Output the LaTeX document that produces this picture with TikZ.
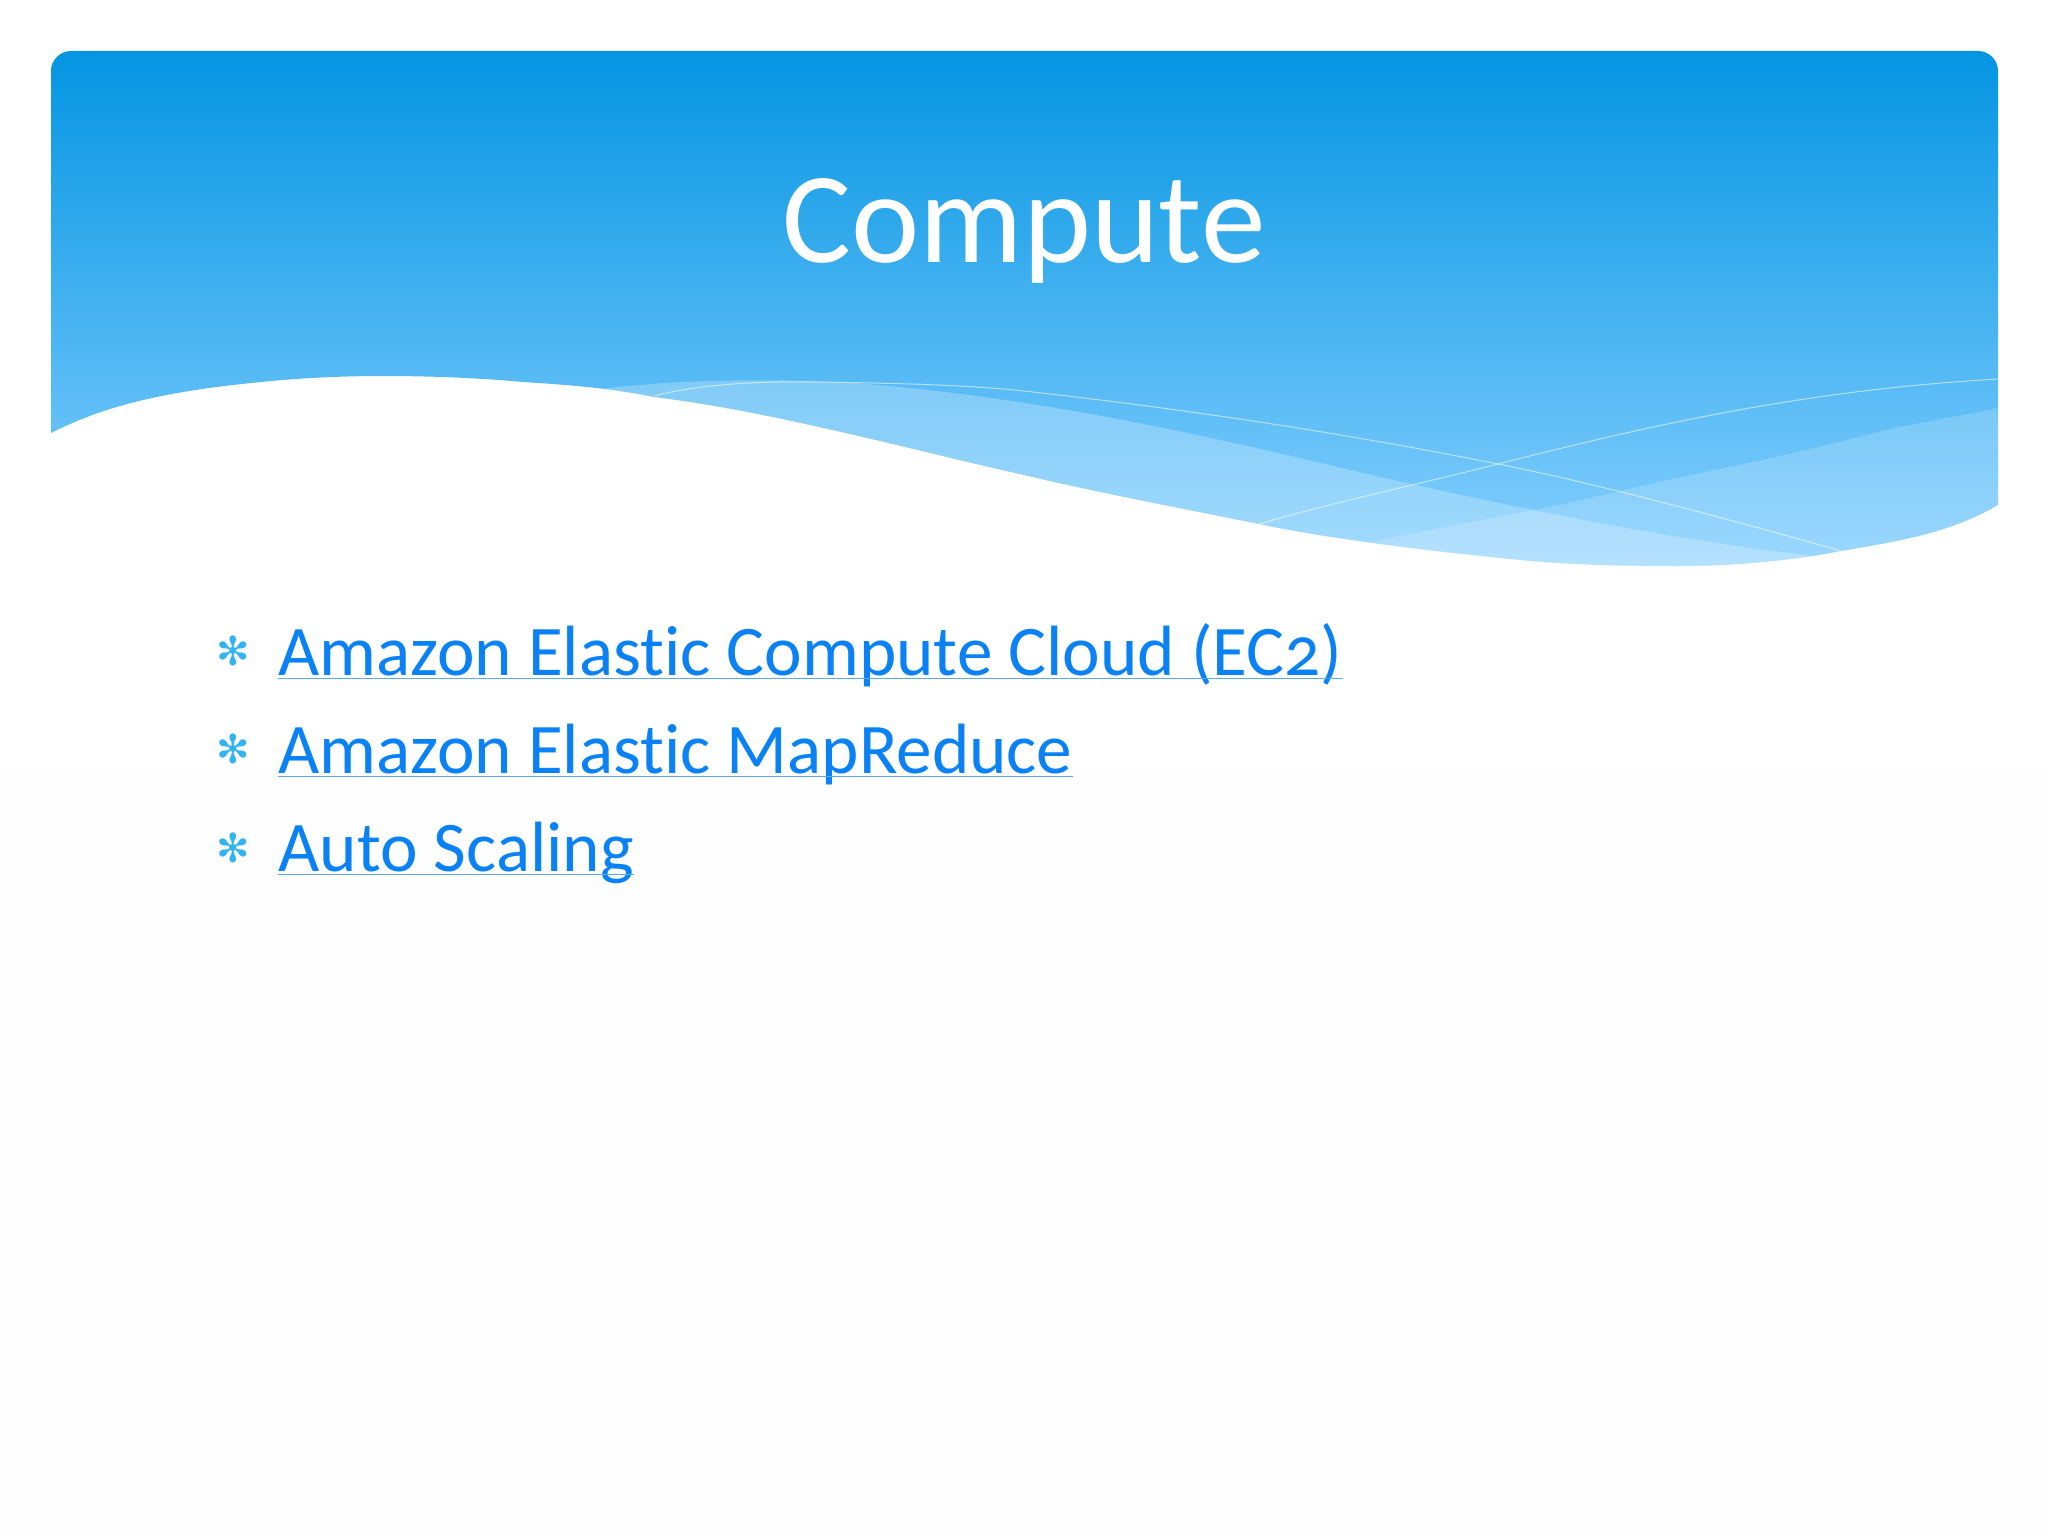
\documentclass[tikz,border=0pt]{standalone}
\usepackage{fontspec}
\setmainfont[Numbers=OldStyle,Ligatures=NoCommon]{Carlito}
\newfontfamily\bulletfont{DejaVu Sans}
\definecolor{linkblue}{RGB}{10,130,245}
\definecolor{rulelink}{RGB}{90,170,235}
\definecolor{bulletblue}{RGB}{50,180,240}
\definecolor{paneltop}{RGB}{4,149,226}
\definecolor{panelend}{RGB}{135,208,255}
\definecolor{pagelow}{RGB}{254,254,254}
\tikzset{x=0.5pt,y=-0.5pt,
  titletext/.style={font=\fontsize{64.7}{70}\selectfont,text=white,anchor=base,inner sep=0pt},
  linktext/.style={font=\fontsize{35.6}{40}\selectfont,text=linkblue,anchor=base west,inner sep=0pt},
  bulletmark/.style={font=\bulletfont\fontsize{20}{24}\selectfont,text=bulletblue,anchor=center,inner sep=0pt},
  linkrule/.style={draw=rulelink,line width=0.6pt},
  wavebit/.style={fill=white,draw=none},
  waveline/.style={draw=white,opacity=0.55,line width=0.5pt}}
\begin{document}
\begin{tikzpicture}
\useasboundingbox (0,0) rectangle (2048,1536);
\shade[top color=white,bottom color=pagelow] (0,0) rectangle (2048,1536);
\begin{scope}
\clip (51,71) .. controls (51,60) and (60,51) .. (71,51) -- (1978,51) .. controls (1989,51) and (1998,60) .. (1998,71) -- (1998,505)
  .. controls (1950,533) and (1900,541) .. (1841,551)
  .. controls (1790,561) and (1730,566) .. (1678,566)
  .. controls (1630,566) and (1570,565) .. (1521,560)
  .. controls (1450,553) and (1340,541) .. (1259,524)
  .. controls (1180,508) and (1100,493) .. (1024,475)
  .. controls (970,463) and (915,449) .. (863,437)
  .. controls (790,420) and (720,405) .. (654,397)
  .. controls (610,388) and (570,385) .. (523,382)
  .. controls (480,378) and (430,376) .. (385,376)
  .. controls (340,376) and (300,378) .. (261,382)
  .. controls (210,387) and (170,393) .. (131,403)
  .. controls (100,411) and (75,421) .. (51,433) -- cycle;
\shade[top color=paneltop,bottom color=panelend] (40,51) rectangle (2010,570);
\fill[wavebit,opacity=0.25] (601,389)
  .. controls (680,379) and (780,378) .. (869,384)
  .. controls (1000,396) and (1100,414) .. (1220,440)
  .. controls (1290,455) and (1360,473) .. (1416,485)
  .. controls (1460,495) and (1500,503) .. (1534,510)
  .. controls (1630,530) and (1720,545) .. (1820,557)
  -- (1820,600) -- (600,600) -- cycle;
\fill[wavebit,opacity=0.18] (1998,408)
  .. controls (1950,418) and (1910,424) .. (1874,433)
  .. controls (1780,458) and (1700,472) .. (1625,490)
  .. controls (1590,498) and (1560,505) .. (1534,510)
  .. controls (1480,520) and (1420,532) .. (1370,542)
  -- (1370,600) -- (2010,600) -- (2010,408) -- cycle;
\coordinate (la) at (654,396);
\coordinate (lb) at (1841,551);
\coordinate (lc) at (1259,524);
\coordinate (ld) at (1999,379);
\coordinate (lx) at (1498,464);
\draw[waveline] (la) .. controls (700,384) and (760,381) .. (817,382)
  .. controls (890,383) and (970,385) .. (1024,391)
  .. controls (1184,409) and (1338,432) .. (lx)
  .. controls (1600,484) and (1750,525) .. (lb);
\draw[waveline] (lc) .. controls (1330,503) and (1420,484) .. (lx)
  .. controls (1640,428) and (1800,390) .. (ld);
\end{scope}
\node[titletext] (title) at (1024,262) {Compute};
\node[linktext] (l1) at (278,675) {Amazon Elastic Compute Cloud (EC2)};
\node[linktext] (l2) at (278,773) {Amazon Elastic MapReduce};
\node[linktext] (l3) at (278,871) {Auto Scaling};
\node[bulletmark] (b1) at (233,651) {✻};
\node[bulletmark] (b2) at (233,749) {✻};
\node[bulletmark] (b3) at (233,848) {✻};
\draw[linkrule] ([yshift=-1.7pt]l1.base west) -- ([yshift=-1.7pt]l1.base east);
\draw[linkrule] ([yshift=-1.7pt]l2.base west) -- ([yshift=-1.7pt]l2.base east);
\draw[linkrule] ([yshift=-1.7pt]l3.base west) -- ([yshift=-1.7pt]l3.base east);
\end{tikzpicture}
\end{document}
